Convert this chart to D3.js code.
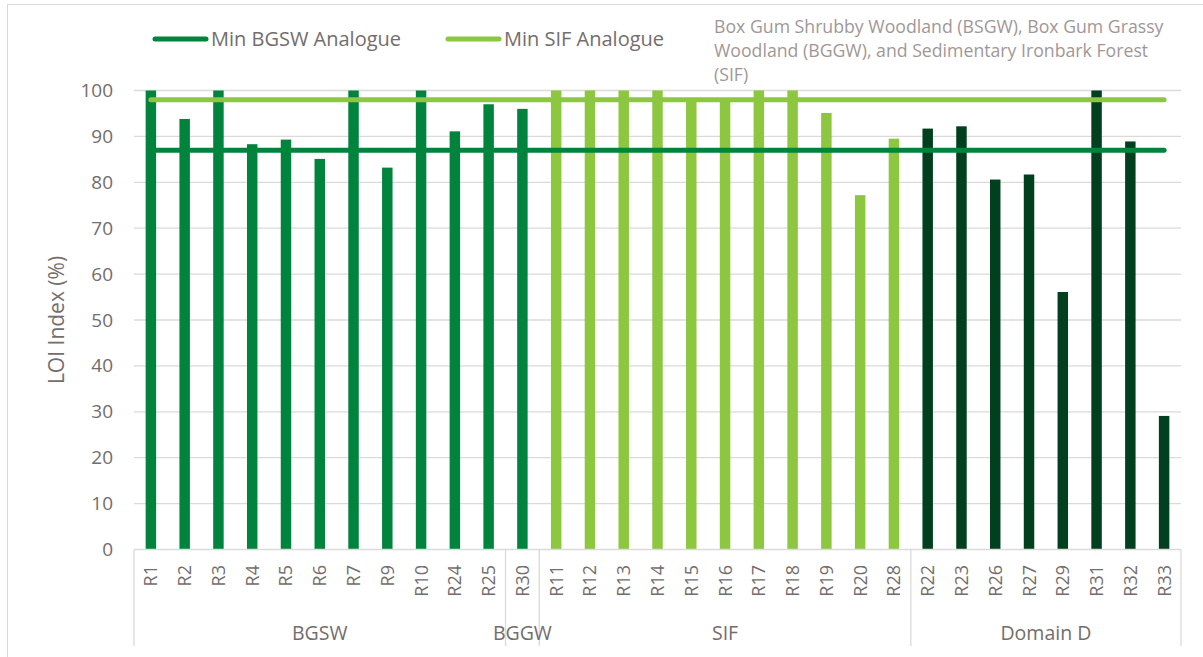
<!DOCTYPE html>
<html>
<head>
<meta charset="utf-8">
<script src="https://cdn.jsdelivr.net/npm/d3@7"></script>
<style>
  body { margin: 0; background: #fff; }
  text { font-family: "Open Sans", sans-serif; }
</style>
</head>
<body>
<svg id="chart" width="1203" height="657"></svg>
<script>
// ---------- data ---------- //
const categories = ["R1","R2","R3","R4","R5","R6","R7","R9","R10","R24","R25",
                    "R30",
                    "R11","R12","R13","R14","R15","R16","R17","R18","R19","R20","R28",
                    "R22","R23","R26","R27","R29","R31","R32","R33"];
const loiValues = [100, 93.8, 100, 88.3, 89.3, 85.1, 100, 83.2, 100, 91.1, 97.0,
                   96.0,
                   100, 100, 100, 100, 98.2, 97.5, 100, 100, 95.1, 77.2, 89.5,
                   91.7, 92.2, 80.6, 81.7, 56.1, 100, 88.9, 29.1];
const groupNames = ["BGSW", "BGGW", "SIF", "Domain D"];
const groupSizes = [11, 1, 11, 8];
const groupColors = ["#00843d", "#00843d", "#8dc63f", "#00401f"];
const yTicks = [0, 10, 20, 30, 40, 50, 60, 70, 80, 90, 100];
const minBGSW = 87;
const minSIF = 98;
const titleLines = ["Box Gum Shrubby Woodland (BSGW), Box Gum Grassy",
                    "Woodland (BGGW), and Sedimentary Ironbark Forest",
                    "(SIF)"];

// which group each category sits in
const groupIndex = [];
groupSizes.forEach(function(n, g){ for (let i = 0; i < n; i++) groupIndex.push(g); });

const textColor = "#736d6d";
const gridColor = "#dcd9d9";

const svg = d3.select("#chart");

// chart border (only top/left show in the frame)
svg.append("rect")
    .attr("x", 7.5).attr("y", 4.5)
    .attr("width", 1210).attr("height", 670)
    .attr("fill", "none")
    .attr("stroke", "#d9d9d9");

const x = d3.scaleBand()
    .domain(categories)
    .range([134, 1181])
    .paddingInner(0.69)
    .paddingOuter(0.345);

const y = d3.scaleLinear()
    .domain([0, 100])
    .range([549.5, 90.5]);

// gridlines
svg.append("g")
    .selectAll("line")
    .data(yTicks.slice(1))
    .join("line")
    .attr("x1", 134).attr("x2", 1181)
    .attr("y1", d => y(d)).attr("y2", d => y(d))
    .attr("stroke", gridColor)
    .attr("stroke-width", 1.3);

// y tick labels
svg.append("g")
    .selectAll("text")
    .data(yTicks)
    .join("text")
    .attr("x", 113)
    .attr("y", d => y(d) + 6.5)
    .attr("text-anchor", "end")
    .attr("font-size", "19")
    .attr("fill", textColor)
    .text(d => d);

// y axis title
svg.append("text")
    .attr("transform", "translate(64,320) rotate(-90)")
    .attr("text-anchor", "middle")
    .attr("font-size", "21")
    .attr("fill", textColor)
    .text("LOI Index (%)");

// bars
svg.append("g")
    .selectAll("rect")
    .data(categories)
    .join("rect")
    .attr("x", d => x(d))
    .attr("width", x.bandwidth())
    .attr("y", (d, i) => y(loiValues[i]))
    .attr("height", (d, i) => y(0) - y(loiValues[i]))
    .attr("fill", (d, i) => groupColors[groupIndex[i]]);

// threshold lines, drawn from first to last category centre
const half = x.bandwidth() / 2;
const xFirst = x(categories[0]) + half;
const xLast = x(categories[categories.length - 1]) + half;

svg.append("line")
    .attr("x1", xFirst).attr("x2", xLast)
    .attr("y1", y(minSIF)).attr("y2", y(minSIF))
    .attr("stroke", "#8dc63f")
    .attr("stroke-width", 5)
    .attr("stroke-linecap", "round");

svg.append("line")
    .attr("x1", xFirst).attr("x2", xLast)
    .attr("y1", y(minBGSW)).attr("y2", y(minBGSW))
    .attr("stroke", "#00843d")
    .attr("stroke-width", 5)
    .attr("stroke-linecap", "round");

// category axis: baseline + group dividers
const axisG = svg.append("g");
const step = x.step();
axisG.append("line")
    .attr("x1", 134).attr("x2", 1181)
    .attr("y1", y(0)).attr("y2", y(0))
    .attr("stroke", gridColor)
    .attr("stroke-width", 1.3);

const dividers = [0];
groupSizes.reduce(function(acc, n){ dividers.push(acc + n); return acc + n; }, 0);

axisG.selectAll("line.div")
    .data(dividers)
    .join("line")
    .attr("class", "div")
    .attr("x1", d => 134 + d * step).attr("x2", d => 134 + d * step)
    .attr("y1", y(0)).attr("y2", 646)
    .attr("stroke", gridColor)
    .attr("stroke-width", 1.3);

// category labels (rotated)
axisG.selectAll("text.cat")
    .data(categories)
    .join("text")
    .attr("class", "cat")
    .attr("transform", d => "translate(" + (x(d) + half + 6.5) + ",565) rotate(-90)")
    .attr("text-anchor", "end")
    .attr("font-size", "18")
    .attr("fill", textColor)
    .text(d => d);

// group labels
axisG.selectAll("text.grp")
    .data(groupNames)
    .join("text")
    .attr("class", "grp")
    .attr("x", (d, g) => 134 + (dividers[g] + dividers[g + 1]) / 2 * step)
    .attr("y", 640)
    .attr("text-anchor", "middle")
    .attr("font-size", "19.5")
    .attr("fill", textColor)
    .text(d => d);

// legend
const legend = [
    {name: "Min BGSW Analogue", color: "#00843d", x: 155},
    {name: "Min SIF Analogue", color: "#8dc63f", x: 448}
];
legend.forEach(function(l){
    svg.append("line")
        .attr("x1", l.x).attr("x2", l.x + 51)
        .attr("y1", 39).attr("y2", 39)
        .attr("stroke", l.color)
        .attr("stroke-width", 5)
        .attr("stroke-linecap", "round");
    svg.append("text")
        .attr("x", l.x + 56)
        .attr("y", 46)
        .attr("font-size", "20")
        .attr("fill", textColor)
        .text(l.name);
});

// title block, top right
svg.append("g")
    .selectAll("text")
    .data(titleLines)
    .join("text")
    .attr("x", 714)
    .attr("y", (d, i) => 33 + i * 24)
    .attr("font-size", "17.7")
    .attr("fill", "#9f9797")
    .text(d => d);
</script>
</body>
</html>
